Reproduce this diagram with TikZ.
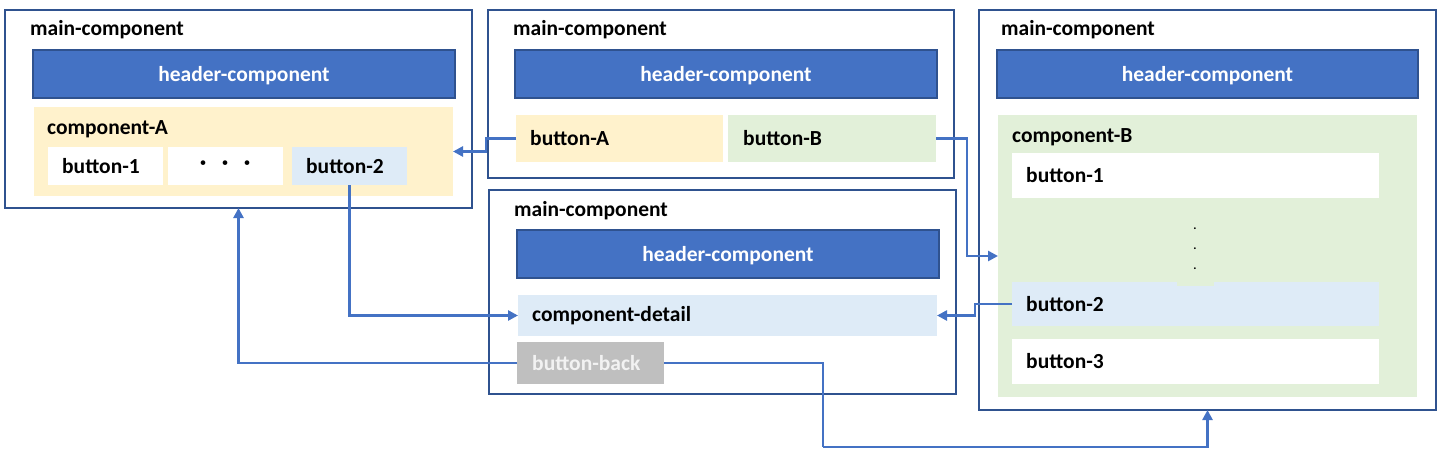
\documentclass[tikz,border=0pt]{standalone}
\usepackage{fontspec}
\setmainfont{Carlito}
\newfontfamily\cjk{Noto Sans CJK JP}
\usetikzlibrary{arrows.meta}
\definecolor{bdr}{HTML}{2F528F}
\definecolor{hdr}{HTML}{4472C4}
\definecolor{lyel}{HTML}{FFF2CC}
\definecolor{lgrn}{HTML}{E2F0D9}
\definecolor{lblu}{HTML}{DEEBF7}
\definecolor{gry}{HTML}{BFBFBF}
\definecolor{lnk}{HTML}{4472C4}
\begin{document}
\begin{tikzpicture}[x=1pt,y=-1pt,
  font=\bfseries\fontsize{21.5}{24}\selectfont,
  rect/.style={inner sep=0pt, outer sep=0pt, anchor=north west},
  mainbox/.style={rect, draw=bdr, line width=2pt, fill=white},
  hdrbox/.style={rect, draw=bdr, line width=2pt, fill=hdr, text=white, anchor=north west},
  area/.style={rect, draw=none},
  lbl/.style={anchor=west, inner sep=0pt},
  ttl/.style={anchor=base west, inner sep=0pt},
  link/.style={draw=lnk, line width=2.5pt, -{Triangle[length=10pt,width=10pt]}},
  plain/.style={draw=lnk, line width=2.5pt}
]
\useasboundingbox (0,0) rectangle (1448,460);

% ---------- box 1 ----------
\node[mainbox, minimum width=467pt, minimum height=198pt] (m1) at (5,10) {};
\node[ttl] (t1) at (30,36) {main-component};
\node[hdrbox, minimum width=422pt, minimum height=48pt] (h1) at (33,50) {};
\node (h1t) at ([yshift=-1.5pt]h1.center) {\textcolor{white}{header-component}};
\node[area, fill=lyel, minimum width=419pt, minimum height=89pt] (cA) at (34,107) {};
\node[ttl] (cAt) at (47,134) {component-A};
\node[area, fill=white, minimum width=115pt, minimum height=38pt] (a1) at (48,147) {};
\node[area, fill=white, minimum width=115pt, minimum height=38pt] (ad) at (168,147) {};
\node[area, fill=lblu, minimum width=115pt, minimum height=38pt] (a2) at (292,147) {};
\node[lbl] (a1t) at ([xshift=14pt]a1.west) {button-1};
\node (adt) at (ad.center) {\cjk\mdseries\fontsize{22}{22}\selectfont ・・・};
\node[lbl] (a2t) at ([xshift=14pt]a2.west) {button-2};

% ---------- box 2 ----------
\node[mainbox, minimum width=466.5pt, minimum height=168pt] (m2) at (487.5,10) {};
\node[ttl] (t2) at (513,36) {main-component};
\node[hdrbox, minimum width=422pt, minimum height=48pt] (h2) at (515,50) {};
\node (h2t) at ([yshift=-1.5pt]h2.center) {\textcolor{white}{header-component}};
\node[area, fill=lyel, minimum width=207pt, minimum height=47pt] (bA) at (516,115) {};
\node[area, fill=lgrn, minimum width=208pt, minimum height=47pt] (bB) at (728,115) {};
\node[lbl] (bAt) at ([xshift=14pt]bA.west) {button-A};
\node[lbl] (bBt) at ([xshift=15pt]bB.west) {button-B};

% ---------- box 4 (detail) ----------
\node[mainbox, minimum width=467pt, minimum height=204pt] (m4) at (489,190) {};
\node[ttl] (t4) at (514,216) {main-component};
\node[hdrbox, minimum width=422pt, minimum height=48pt] (h4) at (517,230) {};
\node (h4t) at ([yshift=-1.5pt]h4.center) {\textcolor{white}{header-component}};
\node[area, fill=lblu, minimum width=419pt, minimum height=41pt] (det) at (518,295) {};
\node[lbl] (dett) at ([xshift=14pt]det.west) {component-detail};
\node[area, fill=gry, minimum width=147pt, minimum height=42pt] (bb) at (517,342) {};
\node[lbl, text=white!95!black] (bbt) at ([xshift=15pt]bb.west) {button-back};

% ---------- box 3 ----------
\node[mainbox, minimum width=457pt, minimum height=400pt] (m3) at (979,10) {};
\node[ttl] (t3) at (1001,36) {main-component};
\node[hdrbox, minimum width=421pt, minimum height=48pt] (h3) at (997,50) {};
\node (h3t) at ([yshift=-1.5pt]h3.center) {\textcolor{white}{header-component}};
\node[area, fill=lgrn, minimum width=419pt, minimum height=282pt] (cB) at (998,115) {};
\node[ttl] (cBt) at (1012,142) {component-B};
\node[area, fill=white, minimum width=367pt, minimum height=45pt] (c1) at (1012,153) {};
\node[area, fill=lblu, minimum width=367pt, minimum height=44pt] (c2) at (1012,282) {};
\node[area, fill=white, minimum width=367pt, minimum height=45pt] (c3) at (1012,339) {};
\node[area, fill=lgrn, minimum width=37pt, minimum height=4pt] (notch) at (1177,282) {};
\node[lbl] (c1t) at ([xshift=14pt]c1.west) {button-1};
\node[lbl] (c2t) at ([xshift=14pt]c2.west) {button-2};
\node[lbl] (c3t) at ([xshift=14pt]c3.west) {button-3};
\node[align=center, inner sep=0pt, font=\bfseries\fontsize{12}{20}\selectfont] (vd) at (1195,249) {.\\.\\.};

% ---------- connectors ----------
\coordinate (turn) at (823,447);
\draw[link] (bA.west) -- ++(-30,0) |- (cA.east);
\draw[link] (bB.east) -- ++(31,0) |- (cB.west);
\draw[link] (a2.south) |- (det.west);
\draw[link] (c2.west) -- ++(-37,0) |- (det.east);
\draw[link] (bb.west) -| (m1.south);
\draw[plain] (bb.east) -| (turn);
\draw[link] (turn) -| (m3.south);
\end{tikzpicture}
\end{document}
